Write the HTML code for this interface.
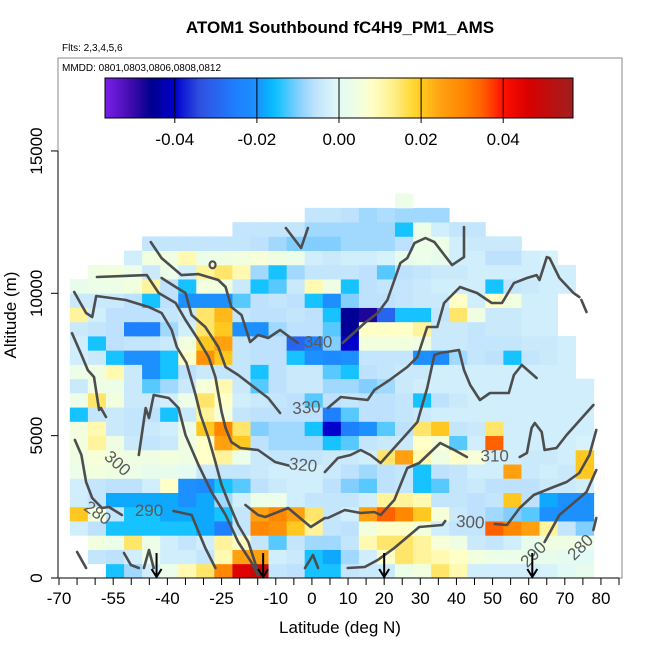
<!DOCTYPE html>
<html><head><meta charset="utf-8"><title>ATOM1 Southbound fC4H9_PM1_AMS</title>
<style>
html,body{margin:0;padding:0;background:#fff;}
svg{display:block;font-family:"Liberation Sans",Arial,sans-serif;}
</style></head>
<body>
<svg id="chart" width="650" height="650" viewBox="0 0 650 650" xmlns="http://www.w3.org/2000/svg">
  <defs>
    <linearGradient id="cbar" x1="0" x2="1" y1="0" y2="0"></linearGradient>
  </defs>
  <text x="340" y="33" text-anchor="middle" font-size="17" font-weight="bold">ATOM1 Southbound fC4H9_PM1_AMS</text>
  <text x="62" y="51" font-size="10">Flts: 2,3,4,5,6</text>
  <rect x="58" y="58" width="564" height="520" fill="none" stroke="#888" stroke-width="1"/>
  <text x="62" y="71" font-size="10">MMDD: 0801,0803,0806,0808,0812</text>
  <g id="cells"></g>
  <g id="contours"></g>
  <g id="clabels"></g>
  <g id="arrows"></g>
  <g id="colorbar"></g>
  <g id="xaxis"></g>
  <g id="yaxis"></g>
  <text x="340" y="633" text-anchor="middle" font-size="17">Latitude (deg N)</text>
  <text transform="translate(16,315) rotate(-90)" text-anchor="middle" font-size="17">Altitude (m)</text>
</svg>
<script>
// ---- data ----
const latBins = [-67,-62,-57,-52,-47,-42,-37,-32,-27,-22,-17,-12,-7,-2,3,8,13,18,23,28,33,38,43,48,53,58,63,68,73];
const latStep = 5;
const altStep = 500; // m per row; row i covers i*500 .. (i+1)*500
const N = null;
const values = [
 [N,N,-1.5,-0.8,-0.3,0.3,1,1.5,3,4.5,5,-0.5,-0.6,-1.5,-1.5,-0.5,-0.4,-0.4,0.3,0.5,1.5,1,-0.3,-0.3,-0.3,-0.3,-0.2,0,0.2],
 [N,-0.5,-0.6,-0.3,0.3,-0.3,-0.3,-0.5,1,2.5,2.5,-0.3,-0.4,-1.5,-1.8,-0.8,-0.3,0.8,1.5,1.2,1,0.8,0.5,0.3,0.3,0.2,0.2,0.1,0],
 [N,0.5,0.3,1.5,0.3,-0.3,-0.5,-0.3,1.2,0.8,-0.5,-1.2,-0.5,-0.8,-0.8,-0.5,1,1.5,1.5,1.2,0.6,0.4,-0.4,-0.5,-0.3,0.2,0.4,0.4,0.3],
 [-0.3,-0.6,-1.5,-1.5,-1.5,-1.5,-1.5,-1.8,-2.5,-0.5,3,2.8,2,1.2,-0.5,-0.6,0.5,0.8,0.8,0.5,-0.3,-0.5,-0.5,3.5,3,2.5,1.2,-0.5,-1],
 [2,0.5,-0.5,-1.5,-1.5,-1.8,-1.8,-1.8,-1.5,-0.5,2.5,3,2.5,1.5,-0.5,-0.3,2.5,3.5,3,2,0.6,-0.4,-0.6,-0.8,-1,-1.2,-2,-2,-2],
 [-0.3,-0.5,-1.8,-1.8,-1.8,-1.8,-2,-1.8,-0.8,-0.3,0.3,0.3,-0.3,-0.5,-0.5,-0.5,-0.3,1.2,1.2,1,-0.5,-0.5,-0.6,-0.5,2,-0.6,-1.8,-2,-2],
 [-0.3,-0.5,-0.6,-0.6,-0.3,0.8,-2,-2.2,-1.5,-1.2,-0.6,-0.4,-0.3,-0.3,-0.6,-1,-1.2,-0.6,-0.5,-1.5,-1.2,-0.5,-0.4,-0.6,-0.6,-0.6,-0.4,-0.4,-0.3],
 [0.3,0.5,0.4,0.3,0.2,0.2,0.1,-0.4,-0.5,-0.5,-0.4,-0.3,-0.3,-0.3,-0.4,-0.6,-0.8,-0.6,-0.5,-1.5,-0.6,-0.5,-0.3,-0.3,2.5,-0.4,-0.3,-0.4,2],
 [0.4,0.6,0.5,0.4,0.4,0.5,0.4,0.8,1.2,0.3,-0.4,-0.5,-0.5,-0.5,-0.4,-0.4,-0.3,1.5,2.5,1,0.4,0.8,0.6,-0.3,-0.3,-0.4,-0.4,-0.3,2],
 [0.5,1.2,0.4,-0.4,-0.5,-0.4,0.4,0.8,2.5,2,-0.6,-0.8,-0.8,-0.8,-1.5,-1.2,-0.5,-0.4,-0.4,0.8,0.6,-1.2,-0.3,3.5,-0.3,-0.3,-0.3,-0.3,-0.2],
 [0.5,1,-0.4,-0.5,-0.4,-0.3,0.3,2,3,1.5,-1,-0.8,-0.8,-1.5,-4,-2.5,-2,-1.2,-0.6,1.5,2,-0.5,-0.4,1.5,-0.3,-0.3,-0.3,-0.3,-0.3],
 [-1.5,-0.5,-0.4,-0.5,-0.6,-1.5,-0.4,1.2,0.6,-0.5,-0.6,-0.6,-0.6,-0.6,-2.5,-1.2,-0.6,-0.6,-0.5,-0.4,-0.3,-0.3,-0.3,-0.3,-0.3,-0.3,-0.3,-0.3,-0.3],
 [0.3,1.5,0.5,-0.4,-0.4,-0.3,0.3,1.5,0.8,-0.3,-0.4,-0.5,-0.6,-1.2,-0.6,-0.5,-0.6,-0.6,-0.5,-1.5,-0.6,-0.4,-0.3,-0.3,-0.3,-0.3,-0.3,-0.3,-0.3],
 [-0.4,0.4,0.3,-0.4,-1.2,-0.8,-0.4,0.6,1,-0.4,-1.2,-0.6,-0.4,-0.4,-0.8,-0.8,-1,-0.8,-0.4,-0.3,-0.3,-0.3,-0.3,-0.3,-0.3,-0.3,-0.3,-0.3,-0.3],
 [0.3,0.4,1,-0.4,-2,-1.5,-0.6,-0.4,-0.5,-0.5,-1.5,-0.6,-0.4,-0.4,-1.2,-1.5,-0.6,-0.5,-0.4,-0.4,-0.3,-0.3,-0.3,-0.3,-0.3,-0.3,-0.3,-0.3,N],
 [-0.3,-0.4,-1.5,-2,-2,-1.5,0.8,2.8,2,-0.5,-0.6,-0.6,-1.5,-2,-2.2,-2,-0.5,-0.5,-0.5,-2,-2.2,-0.8,-0.5,-0.6,-1.5,-0.5,-0.4,-0.3,N],
 [-0.3,-1.5,-0.6,-0.5,-0.5,-0.4,0.5,2,2.5,-0.5,-0.6,-0.6,-3,-2.5,-1,-4,0.5,0.5,0.5,0.4,-0.4,-0.4,-0.5,-0.5,-0.5,-0.4,-0.4,-0.3,N],
 [-0.4,-0.5,-0.6,-2.5,-2.5,-0.8,-0.3,1.5,2,-2,-2,-0.8,-0.6,-0.6,-1.2,-4.5,0.8,0.8,0.8,1.2,-0.4,-0.4,-0.5,-0.4,-0.4,-0.3,-0.3,N,N],
 [1.2,-0.3,-0.6,-0.6,-0.6,-0.5,-0.4,1.5,2.2,-0.5,-0.6,-0.6,-0.5,-0.6,-1.5,-4.5,-4.8,-3,-1.5,-1.5,-0.5,1.5,0.4,-0.4,-0.4,-0.3,-0.3,N,N],
 [-0.4,-0.4,-0.4,-0.6,-1.5,-0.6,-2,-2,-2,-1.2,-0.6,-0.5,-0.6,-1.5,-2,-1,-0.6,-0.6,-0.5,-0.4,-0.4,0.8,-0.3,0.8,0.5,-0.3,-0.3,N,N],
 [0.2,0.3,0.3,0.5,1.2,-0.6,-1.5,0.5,0.5,-0.4,-1.5,-1.2,-0.4,1,0.4,-1.5,-0.6,-0.5,-0.5,-0.4,-0.3,-0.3,-0.3,-1.5,-0.5,-0.4,-0.3,-0.3,N],
 [N,0.4,0.5,0.3,-0.4,0.3,-0.3,1.2,1.5,1,-0.8,-1.5,-0.8,-0.5,-0.5,-0.5,-0.6,-1.2,-0.6,-0.5,-0.4,-0.4,-0.3,-0.3,-0.3,-0.3,-0.3,-0.3,N],
 [N,N,N,-0.3,0.5,0.4,1,0.3,0.4,0.5,0.6,0.4,0.3,-0.3,-0.4,-0.3,-0.3,-0.2,0.2,0.3,0.2,-0.3,-0.3,-0.6,-0.6,-0.3,-0.2,N,N],
 [N,N,N,N,-0.5,-0.5,-0.5,-0.5,-0.5,-0.5,-0.6,-0.8,-1,-1,-1,-0.8,-0.8,-0.8,-0.6,0.3,0.3,-0.3,-0.4,-0.4,-0.4,N,N,N,N],
 [N,N,N,N,N,N,N,N,N,-0.5,-0.5,-0.5,-0.5,-0.8,-0.8,-0.8,-0.8,-0.8,-1.5,0.3,-0.3,-0.5,-0.5,N,N,N,N,N,N],
 [N,N,N,N,N,N,N,N,N,N,N,N,N,-0.5,-0.5,-0.6,-0.8,-0.7,-0.8,-0.8,-0.8,N,N,N,N,N,N,N,N],
 [N,N,N,N,N,N,N,N,N,N,N,N,N,N,N,N,N,N,0.3,N,N,N,N,N,N,N,N,N,N]
];
const valueScale = 0.01;
const xTicks = [-70,-55,-40,-25,-10,0,10,20,30,40,50,60,70,80];
const xMinorTicks = [-70,-65,-60,-55,-50,-45,-40,-35,-30,-25,-20,-15,-10,-5,0,5,10,15,20,25,30,35,40,45,50,55,60,65,70,75,80,85];
const yTicks = [0,5000,10000,15000];
const cbTicks = [-0.04,-0.02,0,0.02,0.04];
const cbRange = [-0.057,0.057];
const arrowLats = [-43,-13.5,20,61];
// contours: [lat, alt] pairs
const contourLines = [
 [[-65.8,10045],[-62.5,9308],[-60.8,9167],[-59.7,9904],[-51.5,9763],[-45.1,9517],[-41.6,9308],[-38.8,8710],[-37.4,8113],[-34.7,7551],[-32.2,6427],[-30.8,5725],[-28.6,4917],[-26.7,4074],[-25,3266],[-23.1,2669],[-20.4,1861],[-17.6,1264],[-14.9,211]],
 [[-59.5,10571],[-45.7,10641],[-42.4,10009],[-37.7,9658],[-35,9061],[-31.4,8359],[-28.6,7762],[-26.7,7059],[-25,5830],[-23.9,5268],[-22.3,4776],[-19.8,4566],[-14.9,4495],[-10.2,4074],[-6.5,3950]],
 [[3.6,3723],[7.2,4214],[10.7,4320],[13.5,4495],[16.2,4320],[19,4039],[29.2,5479],[31.9,6673],[33.9,7832],[35.5,7902],[40.7,8008],[42.1,7305],[43.8,6778],[46.5,6251],[49.3,6497],[54.5,6497],[55.9,7130],[58.1,7480],[62.2,7024]],
 [[-44.6,11800],[-41.6,11238],[-36.1,10641],[-31.4,10676],[-25.9,10466],[-23.9,10220],[-22.3,9518],[-19.5,9237],[-17.1,8288],[-14.9,8534],[-12.1,8429],[-8.8,8710],[-3.9,8253]],
 [[8.5,8253],[14.6,8956],[18.2,9307],[20.9,9763],[24.5,11063],[26.4,11238],[28.4,11765],[31.4,11941],[33.9,11800],[38.8,10992],[42.1,11273],[42.1,12327]],
 [[-41.6,10536],[-37.7,10220],[-35,10009],[-33.3,9237],[-29.5,8815],[-25.9,8113],[-23.9,7410],[-20.4,7130],[-16.8,6778],[-12.1,6322],[-8.8,5795]],
 [[4.4,5970],[8,6357],[15.4,6251],[17.3,6603],[21.5,6954],[26.4,7410],[29.2,7762],[31.9,8815],[34.7,8815],[36.6,9658],[41,10220],[45.7,10009],[49.8,9658],[52.6,9658],[55.9,10360],[59.5,10536],[62.2,10641],[63,10466],[65,11273],[65.8,11238],[68.5,10536],[72.4,10009],[74,9868]],
 [[74.6,9763],[76,9342]],
 [[-18.4,2564],[-14.9,2213],[-12.9,2142],[-6.6,2458],[-0.3,1791],[3.6,2107],[4.4,2107],[9.1,2388],[13.5,2283],[17.3,2318],[19,2213],[22.8,2739],[26.4,3863],[29.7,4039],[35.5,4741],[39.4,4495],[42.9,4250]],
 [[57.5,4250],[59.5,4390],[60.8,5268],[61.7,5444],[63.6,5128],[64.4,4495],[67.7,4566],[70.5,5022],[77.9,6076]],
 [[9.9,351],[14.6,386],[18.2,632],[22.8,1054],[29.7,1791],[36.1,1861],[36.9,2002]],
 [[50.6,1896],[54,1861],[57.5,2458],[61.4,2915],[66.9,3196],[70.5,3371],[74,3687],[76.8,4320],[78.7,5198]],
 [[64.4,1264],[68.5,2213],[76,3020],[78.7,3793]],
 [[77.9,1686],[78.7,2107]],
 [[-65,913],[-62.5,351]],
 [[-65.6,4847],[-63.8,4320],[-62.5,3371],[-60.8,2809],[-58.1,2458],[-56.2,2493],[-52.6,2213]],
 [[-38.3,2353],[-33.3,2213],[-29.5,1054],[-26.7,351]],
 [[-66.4,8600],[-64,7900],[-62,7300],[-60.3,7059],[-58.9,5900],[-58.4,5970],[-57,5654]],
 [[-47.9,4320],[-46,5970],[-45.1,5619],[-43.8,6427],[-39.6,6322],[-36.9,5970],[-35,5022],[-31.4,3969],[-27.8,3020],[-23.9,2213],[-20.4,1264],[-16.8,562],[-14.9,105]],
 [[-7.2,12292],[-3,11590],[-1.1,12292]],
 [[-52,878],[-50.1,457],[-47.9,351]],
 [[-46.5,351],[-45.1,983],[-43.8,351]],
 [[-1.9,351],[0.3,808],[1.7,351]]
];
const contourLabelText = ["340","330","320","310","300","300","290","280","290","280"];
const contourLabelLat = [1.7,-1.5,-2.5,50.6,43.8,-54,-45.1,-59.5,61.5,74.5];
const contourLabelAlt = [8253,5950,3930,4250,1930,4000,2330,2250,800,1050];
const contourLabelRot = [0,-4,6,0,4,42,0,35,-45,-45];

// ---- scales ----
function xs(lat){ return 59 + (lat + 70) * 3.613; }
function ys(alt){ return 578 - alt * 0.02847; }
const stops = [
 [-5.7,[123,31,232]],[-5.0,[58,10,168]],[-4.6,[0,0,139]],[-4.0,[0,0,205]],[-3.4,[48,80,224]],
 [-2.5,[30,128,255]],[-2.0,[28,144,255]],[-1.6,[0,191,255]],[-1.0,[130,206,255]],[-0.6,[190,226,253]],
 [-0.2,[214,242,250]],[0,[226,250,246]],[0.5,[242,255,222]],[0.8,[255,255,200]],[1.3,[255,240,144]],
 [1.8,[255,216,48]],[2.0,[255,200,32]],[2.5,[255,160,16]],[3.0,[255,136,0]],[3.5,[255,96,0]],
 [4.0,[255,16,0]],[4.6,[216,0,0]],[5.7,[160,31,31]]
];
function color(v){
  if (v <= stops[0][0]) v = stops[0][0];
  if (v >= stops[stops.length-1][0]) v = stops[stops.length-1][0];
  for (let i=0;i<stops.length-1;i++){
    const a=stops[i], b=stops[i+1];
    if (v>=a[0] && v<=b[0]){
      const t=(v-a[0])/(b[0]-a[0]||1);
      const c=a[1].map((x,k)=>Math.round(x+(b[1][k]-x)*t));
      return 'rgb('+c.join(',')+')';
    }
  }
  return '#fff';
}
const NS='http://www.w3.org/2000/svg';
function mk(tag, attrs, parent){
  const e=document.createElementNS(NS,tag);
  for (const k in attrs) e.setAttribute(k, attrs[k]);
  parent.appendChild(e); return e;
}

// ---- heatmap ----
const cells=document.getElementById('cells');
values.forEach((row,ri)=>{
  row.forEach((v,ci)=>{
    if (v===null || v===undefined) return;
    const x0=xs(latBins[ci]), x1=xs(latBins[ci]+latStep);
    const y1=ys(ri*altStep), y0=ys((ri+1)*altStep);
    const r=mk('rect',{x:x0.toFixed(2),y:y0.toFixed(2),width:(x1-x0+0.4).toFixed(2),height:(y1-y0+0.4).toFixed(2),fill:color(v)},cells);
    
    
  });
});

// ---- contours ----
const cg=document.getElementById('contours');
contourLines.forEach(line=>{
  const d=line.map((p,i)=>(i?'L':'M')+xs(p[0]).toFixed(1)+' '+ys(p[1]).toFixed(1)).join(' ');
  const p=mk('path',{d:d,fill:'none',stroke:'#4d4d4d','stroke-width':2.6,'stroke-linejoin':'round','stroke-linecap':'round'},cg);
  
  
});
const loop=mk('ellipse',{cx:xs(-27.5),cy:ys(11000),rx:3,ry:3.5,fill:'none',stroke:'#4d4d4d','stroke-width':2.2},cg);



const lg=document.getElementById('clabels');
contourLabelText.forEach((t,i)=>{
  const x=xs(contourLabelLat[i]), y=ys(contourLabelAlt[i]);
  const e=mk('text',{x:0,y:0,transform:'translate('+x.toFixed(1)+','+y.toFixed(1)+') rotate('+contourLabelRot[i]+')','text-anchor':'middle','dominant-baseline':'middle','font-size':17,fill:'#5a5a5a'},lg);
  e.textContent=t;
  
  
});

// ---- arrows ----
const ag=document.getElementById('arrows');
arrowLats.forEach(lat=>{
  const x=xs(lat);
  const g=mk('g',{},ag);
  
  
  mk('line',{x1:x,y1:553,x2:x,y2:577,stroke:'#000','stroke-width':2},g);
  mk('path',{d:'M'+(x-5)+' 569 L'+x+' 577 L'+(x+5)+' 569',fill:'none',stroke:'#000','stroke-width':2},g);
});

// ---- colorbar ----
const grad=document.getElementById('cbar');
for (let i=0;i<=60;i++){
  const v=cbRange[0]+(cbRange[1]-cbRange[0])*i/60;
  mk('stop',{offset:(i/60*100).toFixed(2)+'%','stop-color':color(v/valueScale)},grad);
}
const cb=document.getElementById('colorbar');
const cbx0=105, cbx1=573, cby0=78, cby1=118;
function cbx(v){ return cbx0+(v-cbRange[0])/(cbRange[1]-cbRange[0])*(cbx1-cbx0); }
const cbr=mk('rect',{x:cbx0,y:cby0,width:cbx1-cbx0,height:cby1-cby0,fill:'url(#cbar)',stroke:'#000','stroke-width':1},cb);


cbTicks.forEach(v=>{
  const x=cbx(v);
  mk('line',{x1:x,y1:cby0,x2:x,y2:cby1+5,stroke:'#000','stroke-width':1},cb);
  const t=mk('text',{x:x,y:145,'text-anchor':'middle','font-size':17},cb);
  t.textContent=v.toFixed(2);
  
  
});

// ---- axes ----
const xa=document.getElementById('xaxis');
mk('line',{x1:xs(-70),y1:578,x2:xs(85),y2:578,stroke:'#000','stroke-width':1},xa);
xMinorTicks.forEach(v=>{
  mk('line',{x1:xs(v),y1:578,x2:xs(v),y2:585,stroke:'#000','stroke-width':1},xa);
});
xTicks.forEach(v=>{
  const t=mk('text',{x:xs(v),y:604,'text-anchor':'middle','font-size':17},xa);
  t.textContent=String(v);
  
  
});
const ya=document.getElementById('yaxis');
mk('line',{x1:58,y1:ys(0),x2:58,y2:ys(15000),stroke:'#000','stroke-width':1},ya);
yTicks.forEach(v=>{
  const y=ys(v);
  mk('line',{x1:51,y1:y,x2:58,y2:y,stroke:'#000','stroke-width':1},ya);
  const t=mk('text',{x:0,y:0,transform:'translate(42,'+y.toFixed(1)+') rotate(-90)','text-anchor':'middle','font-size':17},ya);
  t.textContent=String(v);
  
  
});
</script>
</body></html>
